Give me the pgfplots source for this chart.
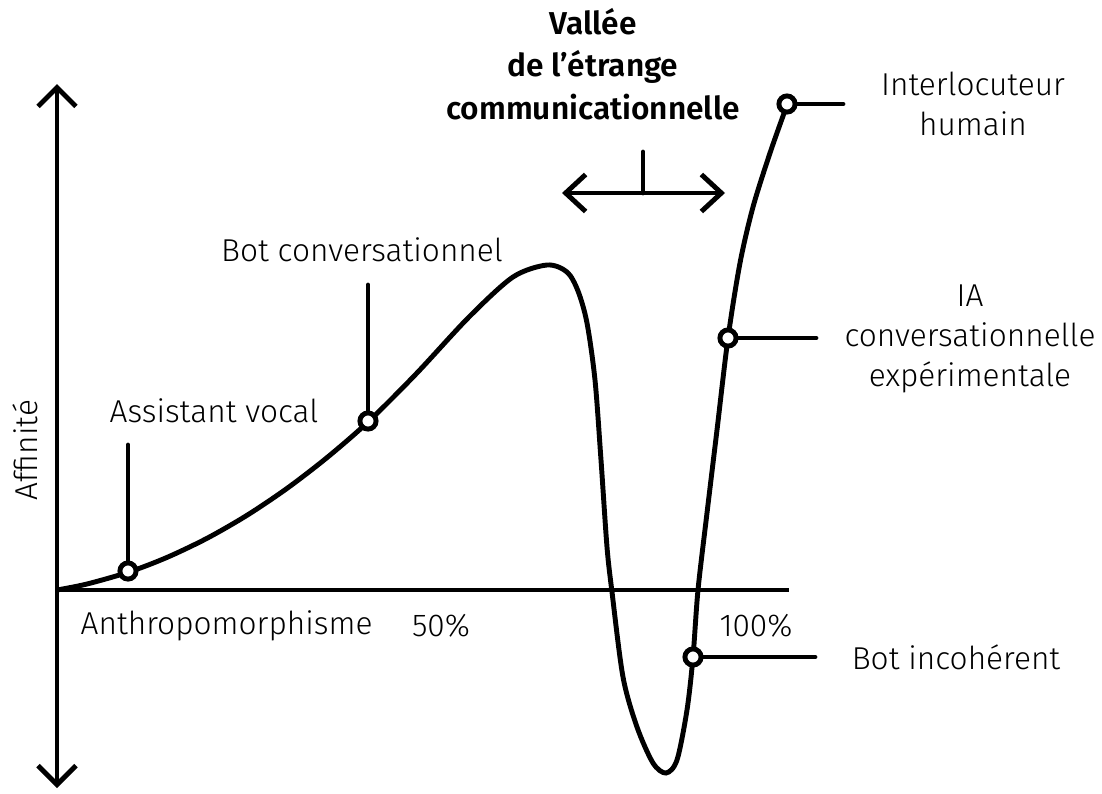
\documentclass[border=0pt]{standalone}
\usepackage{fontspec}
\setmainfont{Fira Sans Light}[BoldFont={Fira Sans SemiBold}]
\usepackage{pgfplots}
\pgfplotsset{compat=1.18}
\usetikzlibrary{arrows.meta}

\begin{document}
\begin{tikzpicture}
\begin{axis}[
  scale only axis, width=11.02cm, height=7.93cm,
  xmin=0, xmax=1102, ymin=0, ymax=793, y dir=reverse,
  hide axis, clip=false,
]
\path (rel axis cs:0,0) rectangle (rel axis cs:1,1);
% axes
\draw[line width=1.4pt, line cap=round, {Straight Barb[length=1.9mm,width=3.8mm]}-{Straight Barb[length=1.9mm,width=3.8mm]}]
  (axis cs:57,84) -- (axis cs:57,788);
\draw[line width=1.4pt] (axis cs:57,590) -- (axis cs:789,590);
% valley marker
\draw[line width=1.4pt, line cap=round, {Straight Barb[length=2mm,width=3.7mm]}-{Straight Barb[length=2mm,width=3.7mm]}]
  (axis cs:562,193) -- (axis cs:725,193);
\draw[line width=1.4pt, line cap=round] (axis cs:643,152) -- (axis cs:643,193);
% leader lines
\draw[line width=1.4pt, line cap=round] (axis cs:128,445) -- (axis cs:128,565);
\draw[line width=1.4pt, line cap=round] (axis cs:368,285) -- (axis cs:368,414);
\draw[line width=1.4pt, line cap=round] (axis cs:787,104) -- (axis cs:843,104);
\draw[line width=1.4pt, line cap=round] (axis cs:728,338) -- (axis cs:816,338);
\draw[line width=1.4pt, line cap=round] (axis cs:693,657) -- (axis cs:815,657);
% curve
\addplot[line width=1.4pt, smooth, black] coordinates {
(57,590) (87,584) (129,572) (167,557.4) (207,538.3) (247,515.3) (287,488.4)
(327,457.6) (368,422) (416,374) (469,317) (513,277) (547,265) (567,272)
(578,291) (587,323) (595,380) (601,460) (607,547) (612,592) (623,677)
(637,727) (653,763) (666,773) (677,760) (687,710) (693,657) (698,590)
(707,513) (717,430) (728,338) (740,263) (753,207) (770,153) (787,105)
};
% markers
\addplot[only marks, mark=*, mark size=2.3pt, mark options={fill=white, draw=black, line width=1.4pt}]
  coordinates {(128,571) (368,421) (693,657) (728,338) (787,104)};
% labels
\tikzset{lbl/.style={font=\fontsize{9}{11.3}\selectfont, align=center, inner sep=0pt}}
\node[lbl] at (axis cs:214,411) {Assistant vocal};
\node[lbl] at (axis cs:362,250) {Bot conversationnel};
\node[lbl, anchor=west] at (axis cs:80,626) {Anthropomorphisme};
\node[lbl] at (axis cs:441,626) {50\%};
\node[lbl] at (axis cs:756,626) {100\%};
\node[lbl, rotate=90] at (axis cs:25,450) {Affinité};
\node[lbl, font=\fontsize{9}{12}\selectfont\bfseries] at (axis cs:593,64) {Vallée\\de l’étrange\\communicationnelle};
\node[lbl] at (axis cs:973,104) {Interlocuteur\\humain};
\node[lbl] at (axis cs:970,339) {IA\\conversationnelle\\expérimentale};
\node[lbl] at (axis cs:956,657) {Bot incohérent};
\end{axis}
\end{tikzpicture}
\end{document}
